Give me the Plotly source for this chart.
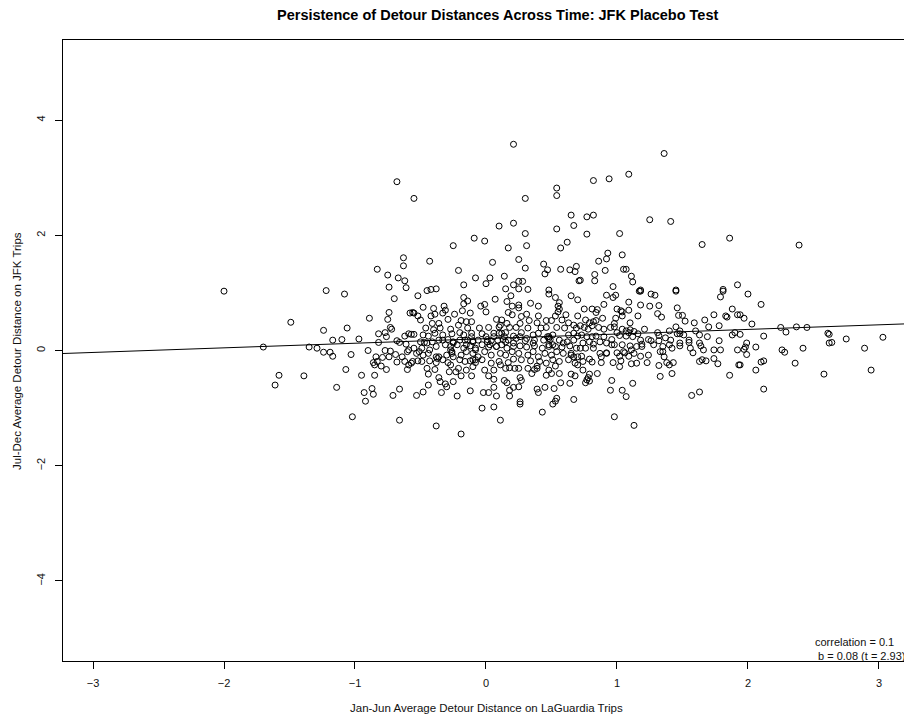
import plotly.graph_objects as go

# ---------------- data ----------------
title_text = "Persistence of Detour Distances Across Time: JFK Placebo Test"
x_label = "Jan-Jun Average Detour Distance on LaGuardia Trips"
y_label = "Jul-Dec Average Detour Distance on JFK Trips"
x_ticks = [-3, -2, -1, 0, 1, 2, 3]
y_ticks = [-4, -2, 0, 2, 4]
x_range = [-3.229, 3.191]
y_range = [-5.39, 5.39]
fit_intercept = 0.206
fit_slope = 0.08
stat_lines = ["correlation = 0.1", "b = 0.08 (t = 2.93)"]

pts_left = [
    (-2.00, 1.03), (-1.70, 0.06), (-1.49, 0.49), (-1.58, -0.43), (-1.61, -0.60), (-1.39, -0.44), (-1.35, 0.06),
    (-1.29, 0.04), (-1.24, 0.35), (-1.24, -0.03), (-1.19, -0.03), (-1.17, -0.10), (-1.17, 0.18), (-1.22, 1.04),
    (-1.08, 0.98), (-1.06, 0.39), (-1.10, 0.19), (-1.03, -0.07), (-1.07, -0.33), (-1.14, -0.64), (-1.02, -1.15),
    (-0.97, 0.20), (-0.95, -0.43), (-0.90, 0.00), (-0.89, 0.56), (-0.93, -0.73), (-0.92, -0.88), (-0.87, -0.66),
    (-0.86, -0.76), (-0.85, -0.43), (-0.86, -0.21), (-0.85, -0.25), (-0.84, -0.11), (-0.82, 0.14), (-0.82, 0.29),
    (-0.83, -0.19), (-0.80, -0.27), (-0.79, -0.12), (-0.77, 0.31), (-0.76, 0.24), (-0.76, -0.33), (-0.77, 0.00),
    (-0.74, 0.66), (-0.75, 0.54), (-0.73, -0.01), (-0.73, 0.40), (-0.72, 0.37), (-0.74, -0.11), (-0.70, 0.90),
    (-0.69, -0.07), (-0.68, 0.17), (-0.68, -0.20), (-0.66, 0.14), (-0.66, -0.67), (-0.71, -0.78), (-0.66, -1.21),
    (-0.64, -0.11), (-0.62, 0.25), (-0.61, 0.11), (-0.60, -0.02), (-0.59, 0.29), (-0.57, 0.28), (-0.55, 0.28),
    (-0.58, 0.65), (-0.56, 0.66), (-0.55, 0.65), (-0.52, 0.95), (-0.52, 0.60), (-0.62, -0.19), (-0.59, -0.25),
    (-0.60, -0.33), (-0.57, -0.22), (-0.56, -0.19), (-0.59, 0.01), (-0.55, 0.04), (-0.53, -0.05), (-0.52, -0.18),
    (-0.53, -0.78), (-0.51, -0.02), (-0.68, 2.93), (-0.55, 2.64), (-0.63, 1.61), (-0.63, 1.47), (-0.83, 1.41),
    (-0.75, 1.31), (-0.67, 1.26), (-0.62, 1.21), (-0.74, 1.10), (-0.61, 1.09),
]

pts_upper = [
    (0.21, 3.58), (0.54, 2.82), (0.54, 2.69), (0.30, 2.64), (0.65, 2.35), (0.67, 2.17), (0.10, 2.16), (0.21, 2.21),
    (0.54, 2.11), (0.30, 2.03), (-0.09, 1.95), (-0.01, 1.90), (0.62, 1.88), (-0.25, 1.82), (0.17, 1.78), (0.31, 1.82),
    (0.57, 1.78), (-0.43, 1.55), (0.05, 1.53), (0.25, 1.58), (-0.21, 1.39), (0.30, 1.43), (0.44, 1.50), (0.47, 1.40),
    (0.45, 1.33), (0.57, 1.41), (0.64, 1.40), (0.68, 1.37), (0.69, 1.46), (-0.08, 1.26), (0.03, 1.26), (0.14, 1.29),
    (-0.17, 1.14), (0.00, 1.16), (0.21, 1.14), (0.25, 1.20), (0.28, 1.20), (0.71, 1.21), (-0.38, 1.07), (-0.42, 1.06),
    (0.15, 1.07), (0.25, 1.07), (0.32, 1.06), (0.48, 1.05), (1.36, 3.42), (1.09, 3.06), (0.94, 2.98), (0.82, 2.95),
    (0.77, 2.32), (0.82, 2.35), (1.25, 2.27), (1.41, 2.24), (0.77, 2.02), (1.02, 2.03), (1.86, 1.95), (1.65, 1.84),
    (0.93, 1.69), (0.92, 1.59), (1.04, 1.66), (0.86, 1.55), (0.91, 1.39), (1.05, 1.41), (1.07, 1.41), (0.83, 1.32),
    (0.83, 1.21), (1.11, 1.29), (1.12, 1.19), (0.97, 1.11), (0.72, 1.22), (1.18, 1.05), (1.45, 1.05), (1.81, 1.06),
    (1.92, 1.14), (2.39, 1.83),
]

pts_right = [
    (2.00, 0.98), (2.10, 0.80), (1.94, 0.62), (1.97, 0.56), (2.03, 0.46), (1.94, 0.28), (2.12, 0.25), (2.25, 0.40),
    (2.29, 0.32), (2.37, 0.41), (2.45, 0.40), (2.61, 0.30), (2.62, 0.28), (2.75, 0.20), (3.03, 0.23), (1.99, 0.13),
    (1.98, 0.06), (1.97, 0.02), (1.99, -0.07), (2.06, 0.06), (2.26, 0.01), (2.28, -0.03), (2.42, 0.04), (2.62, 0.13),
    (2.64, 0.14), (2.89, 0.04), (1.94, -0.25), (2.10, -0.20), (2.12, -0.18), (2.06, -0.34), (2.36, -0.22),
    (2.58, -0.41), (2.94, -0.34), (2.12, -0.67),
]

pts_center_right = [
    (0.92, 0.96), (0.97, 0.92), (0.99, 0.96), (1.17, 1.03), (1.18, 1.03), (1.26, 0.98), (1.29, 0.96), (1.45, 1.03), (1.81, 1.03), (1.79, 0.93),
    (1.09, 0.84), (0.90, 0.80), (1.18, 0.79), (1.25, 0.77), (1.32, 0.78), (1.46, 0.74), (1.88, 0.72), (0.75, 0.72), (0.81, 0.72), (0.85, 0.71),
    (0.84, 0.66), (1.00, 0.72), (1.03, 0.69), (1.04, 0.67), (1.09, 0.70), (1.04, 0.60), (1.16, 0.60), (1.31, 0.64), (1.34, 0.58), (1.47, 0.61),
    (1.50, 0.61), (1.52, 0.51), (1.59, 0.48), (1.67, 0.53), (1.74, 0.62), (1.83, 0.60), (1.84, 0.58), (1.92, 0.62), (0.76, 0.53), (0.79, 0.48),
    (0.82, 0.50), (0.84, 0.52), (0.89, 0.56), (0.99, 0.56), (0.98, 0.47), (0.98, 0.41), (1.10, 0.48), (0.72, 0.43), (0.75, 0.40), (0.78, 0.37),
    (0.81, 0.43), (0.86, 0.40), (0.90, 0.37), (0.95, 0.40), (1.00, 0.31), (1.04, 0.37), (1.07, 0.34), (1.09, 0.31), (1.10, 0.36), (1.13, 0.33),
    (1.16, 0.29), (1.21, 0.37), (1.31, 0.31), (1.32, 0.26), (1.40, 0.34), (1.45, 0.41), (1.46, 0.29), (1.48, 0.29), (1.48, 0.34), (1.51, 0.27),
    (1.60, 0.34), (1.63, 0.27), (1.70, 0.41), (1.69, 0.24), (1.78, 0.43), (1.88, 0.27), (1.90, 0.31), (0.73, 0.27), (0.77, 0.24), (0.81, 0.24),
    (0.84, 0.25), (0.90, 0.24), (0.96, 0.19), (1.02, 0.26), (1.07, 0.25), (1.12, 0.24), (1.18, 0.18), (1.24, 0.19), (1.26, 0.17), (1.32, 0.17),
    (1.37, 0.22), (1.41, 0.18), (1.48, 0.13), (1.55, 0.18), (1.55, 0.14), (1.63, 0.13), (1.78, 0.17), (0.74, 0.13), (0.79, 0.15), (0.82, 0.11),
    (0.87, 0.15), (0.92, 0.13), (0.96, 0.10), (0.98, 0.10), (1.04, 0.10), (1.10, 0.08), (1.15, 0.07), (1.19, 0.11), (1.28, 0.10), (1.35, 0.07),
    (1.40, 0.10), (1.48, 0.08), (1.56, 0.04), (1.64, 0.08), (1.66, 0.01), (1.74, 0.01), (1.79, 0.01), (1.92, 0.01), (0.72, 0.04), (0.76, 0.04),
    (0.82, 0.04), (0.87, -0.05), (0.92, -0.05), (1.00, -0.04), (1.05, -0.02), (1.11, 0.01), (1.13, -0.05), (1.19, 0.07), (1.33, -0.02), (1.35, -0.02),
    (1.42, 0.04), (1.58, -0.04), (0.73, -0.10), (0.79, -0.15), (0.88, -0.11), (0.92, -0.04), (1.02, -0.10), (1.06, -0.04), (1.09, -0.10), (1.18, -0.10),
    (1.24, -0.08), (1.36, -0.11), (0.74, -0.19), (0.81, -0.20), (0.88, -0.21), (0.97, -0.21), (1.03, -0.18), (1.02, -0.28), (1.11, -0.23), (1.15, -0.22),
    (1.23, -0.21), (1.32, -0.26), (1.38, -0.21), (1.40, -0.25), (1.43, -0.21), (1.63, -0.19), (1.65, -0.16), (1.68, -0.18), (1.74, -0.14), (1.77, -0.23),
    (1.93, -0.25), (0.74, -0.34), (0.79, -0.41), (0.85, -0.40), (0.78, -0.47), (0.77, -0.51), (0.79, -0.53), (0.76, -0.56), (0.96, -0.52), (1.12, -0.57),
    (1.33, -0.45), (1.42, -0.40), (1.86, -0.43), (0.95, -0.69), (1.04, -0.69), (1.07, -0.80), (1.57, -0.78), (1.63, -0.72), (0.98, -1.15), (1.13, -1.30),
]

pts_center = [
    (-0.45, 1.04), (-0.17, 0.92), (-0.14, 0.86), (0.19, 0.95), (0.16, 0.85), (0.07, 0.89), (0.48, 0.98), (0.53, 0.92), (0.56, 0.83), (0.55, 0.77),
    (0.65, 0.95), (0.70, 0.88), (-0.48, 0.75), (-0.40, 0.73), (-0.32, 0.77), (-0.31, 0.70), (-0.33, 0.65), (-0.42, 0.60), (-0.39, 0.63), (-0.17, 0.81),
    (-0.04, 0.77), (-0.01, 0.80), (0.00, 0.67), (-0.18, 0.69), (-0.24, 0.63), (-0.12, 0.65), (0.20, 0.77), (0.25, 0.79), (0.25, 0.74), (0.34, 0.82),
    (0.40, 0.77), (0.56, 0.72), (0.55, 0.67), (0.31, 0.63), (0.17, 0.66), (0.20, 0.62), (0.27, 0.59), (0.40, 0.60), (0.53, 0.60), (0.61, 0.62),
    (0.70, 0.60), (-0.29, 0.54), (-0.36, 0.47), (-0.41, 0.47), (-0.50, 0.53), (-0.19, 0.52), (-0.15, 0.50), (-0.11, 0.50), (0.08, 0.54), (0.12, 0.53),
    (0.16, 0.47), (0.26, 0.47), (0.33, 0.52), (0.39, 0.48), (0.46, 0.52), (0.50, 0.52), (0.58, 0.53), (0.63, 0.48), (0.67, 0.44), (-0.46, 0.39),
    (-0.40, 0.36), (-0.35, 0.39), (-0.27, 0.37), (-0.21, 0.44), (-0.14, 0.39), (-0.05, 0.39), (0.02, 0.40), (0.10, 0.41), (0.18, 0.40), (0.23, 0.40),
    (0.32, 0.39), (0.42, 0.39), (0.46, 0.40), (0.54, 0.40), (0.60, 0.39), (0.69, 0.39), (-0.48, 0.27), (-0.44, 0.25), (-0.39, 0.30), (-0.33, 0.27),
    (-0.26, 0.29), (-0.20, 0.31), (-0.17, 0.27), (-0.11, 0.30), (-0.03, 0.29), (0.00, 0.24), (0.06, 0.30), (0.12, 0.30), (0.15, 0.31), (0.21, 0.25),
    (0.27, 0.31), (0.36, 0.27), (0.40, 0.30), (0.48, 0.24), (0.51, 0.27), (0.63, 0.27), (0.67, 0.30), (0.70, 0.25), (-0.50, 0.15), (-0.47, 0.14),
    (-0.41, 0.15), (-0.36, 0.18), (-0.33, 0.18), (-0.29, 0.19), (-0.25, 0.15), (-0.20, 0.18), (-0.14, 0.18), (-0.10, 0.17), (-0.06, 0.18), (0.01, 0.19),
    (0.04, 0.17), (0.09, 0.18), (0.13, 0.19), (0.17, 0.18), (0.23, 0.21), (0.30, 0.17), (0.37, 0.18), (0.44, 0.18), (0.49, 0.19), (0.56, 0.18),
    (0.62, 0.15), (0.67, 0.18), (-0.49, 0.04), (-0.43, 0.01), (-0.38, 0.07), (-0.31, 0.10), (-0.27, 0.07), (-0.22, 0.10), (-0.17, 0.04), (-0.12, 0.08),
    (-0.08, 0.04), (-0.03, 0.10), (0.02, 0.06), (0.08, 0.07), (0.12, 0.10), (0.16, 0.04), (0.21, 0.07), (0.26, 0.08), (0.31, 0.06), (0.37, 0.08),
    (0.43, 0.04), (0.48, 0.10), (0.53, 0.07), (0.58, 0.06), (0.64, 0.08), (0.69, 0.04), (-0.48, -0.08), (-0.44, -0.05), (-0.38, -0.11), (-0.30, -0.08),
    (-0.26, -0.02), (-0.25, -0.11), (-0.19, -0.08), (-0.15, -0.02), (-0.10, -0.05), (-0.06, -0.11), (-0.01, -0.02), (0.04, -0.08), (0.11, -0.05), (0.15, -0.08),
    (0.20, -0.02), (0.25, -0.05), (0.32, -0.08), (0.36, -0.02), (0.40, -0.11), (0.45, -0.05), (0.50, -0.08), (0.54, -0.02), (0.59, -0.05), (0.65, -0.08),
    (0.70, -0.11), (-0.49, -0.19), (-0.43, -0.18), (-0.38, -0.21), (-0.33, -0.16), (-0.29, -0.21), (-0.20, -0.16), (-0.16, -0.19), (-0.12, -0.18), (-0.08, -0.21),
    (-0.03, -0.16), (0.04, -0.22), (0.10, -0.19), (0.17, -0.21), (0.21, -0.15), (0.27, -0.16), (0.34, -0.18), (0.41, -0.19), (0.46, -0.22), (0.51, -0.16),
    (0.56, -0.19), (0.63, -0.16), (0.68, -0.22), (-0.45, -0.31), (-0.39, -0.33), (-0.27, -0.25), (-0.21, -0.31), (-0.15, -0.34), (-0.10, -0.28), (-0.01, -0.34),
    (0.06, -0.34), (0.11, -0.25), (0.15, -0.31), (0.18, -0.30), (0.22, -0.31), (0.25, -0.31), (0.32, -0.31), (0.37, -0.33), (0.39, -0.27), (0.48, -0.34),
    (0.53, -0.27), (0.70, -0.25), (-0.44, -0.41), (-0.36, -0.47), (-0.28, -0.37), (-0.23, -0.37), (-0.19, -0.44), (-0.11, -0.44), (0.02, -0.44), (0.06, -0.50),
    (0.14, -0.52), (0.16, -0.56), (0.26, -0.47), (0.27, -0.52), (0.35, -0.40), (0.39, -0.31), (0.46, -0.43), (0.50, -0.40), (0.56, -0.40), (0.65, -0.41),
    (0.68, -0.44), (-0.35, -0.54), (-0.31, -0.58), (-0.30, -0.63), (-0.44, -0.60), (-0.25, -0.54), (-0.48, -0.72), (-0.34, -0.73), (-0.22, -0.79), (-0.12, -0.70),
    (-0.02, -0.73), (0.02, -0.73), (0.06, -0.64), (0.08, -0.79), (0.18, -0.69), (0.18, -0.79), (0.21, -0.64), (0.25, -0.63), (0.39, -0.67), (0.40, -0.73),
    (0.45, -0.64), (0.52, -0.66), (0.57, -0.56), (0.64, -0.57), (0.54, -0.83), (0.53, -0.88), (0.51, -0.93), (0.67, -0.85), (0.26, -0.89), (0.26, -0.93),
    (-0.03, -1.00), (0.06, -0.98), (0.43, -1.07), (0.11, -1.21), (-0.38, -1.31), (-0.19, -1.45),
    (-0.11, 0.24), (-0.08, 0.01), (-0.10, -0.16), (0.11, 0.44), (0.10, 0.30), (0.47, 0.24), (0.48, 0.21), (0.48, 0.07), (0.51, 0.10), (0.14, 0.24),
    (0.15, 0.15), (-0.27, 0.01), (-0.26, -0.05), (-0.16, 0.18), (-0.15, 0.10), (-0.10, 0.15), (-0.08, -0.16), (-0.36, -0.11), (-0.37, -0.14), (0.06, 0.24),
    (0.26, 0.24), (0.31, 0.21), (0.36, 0.13), (0.59, 0.13), (0.65, -0.05), (0.67, -0.11), (0.01, 0.15), (0.03, 0.10), (0.08, 0.07), (0.21, 0.13),
    (-0.45, 0.13), (-0.25, 0.13),
]

# ---------------- figure ----------------
all_pts = pts_left + pts_upper + pts_right + pts_center_right + pts_center
xs = [p[0] for p in all_pts]
ys = [p[1] for p in all_pts]

FONT = "Liberation Sans, Arial, sans-serif"
W, H = 904, 717
ML, MR, MT, MB = 63, 0, 40, 56
pw, ph = W - ML - MR, H - MT - MB


def px_x(px):
    return (px - ML) / pw


def px_y(py):
    return (H - MB - py) / ph


fig = go.Figure()
fig.add_trace(go.Scatter(
    x=xs, y=ys, mode="markers",
    marker=dict(symbol="circle-open", size=6, color="black", line=dict(width=1, color="black")),
    hoverinfo="x+y", showlegend=False,
))

fit_x = [x_range[0], x_range[1]]
fit_y = [fit_intercept + fit_slope * v for v in fit_x]
fig.add_trace(go.Scatter(
    x=fit_x, y=fit_y, mode="lines",
    line=dict(color="black", width=1), hoverinfo="skip", showlegend=False,
))

axis_common = dict(
    showgrid=False, zeroline=False, showline=True, linecolor="black", linewidth=1,
    ticks="outside", ticklen=7, tickwidth=1, tickcolor="black",
    tickfont=dict(family=FONT, size=11, color="#111"),
)

fig.update_layout(
    width=W, height=H,
    margin=dict(l=ML, r=MR, t=MT, b=MB, pad=0),
    plot_bgcolor="white", paper_bgcolor="white",
    xaxis=dict(range=x_range, tickvals=x_ticks, mirror=True, ticklabelstandoff=5, **axis_common),
    yaxis=dict(range=y_range, tickvals=y_ticks, tickangle=-90, mirror=False, ticklabelstandoff=6, **axis_common),
    annotations=[
        dict(text="<b>" + title_text + "</b>", x=px_x(498), y=px_y(15), xref="paper", yref="paper",
             xanchor="center", yanchor="middle", showarrow=False,
             font=dict(family=FONT, size=14.5, color="black")),
        dict(text=x_label, x=px_x(486), y=px_y(708), xref="paper", yref="paper",
             xanchor="center", yanchor="middle", showarrow=False,
             font=dict(family=FONT, size=11.5, color="#111")),
        dict(text=y_label, x=px_x(17), y=px_y(351), xref="paper", yref="paper", textangle=-90,
             xanchor="center", yanchor="middle", showarrow=False,
             font=dict(family=FONT, size=11.5, color="#111")),
        dict(text=stat_lines[0], x=px_x(896), y=px_y(642), xref="paper", yref="paper",
             xanchor="right", yanchor="middle", showarrow=False,
             font=dict(family=FONT, size=11, color="#111")),
        dict(text=stat_lines[1], x=px_x(816), y=px_y(655.5), xref="paper", yref="paper",
             xanchor="left", yanchor="middle", showarrow=False,
             font=dict(family=FONT, size=11, color="#111")),
    ],
)

fig.write_html("out.html")
